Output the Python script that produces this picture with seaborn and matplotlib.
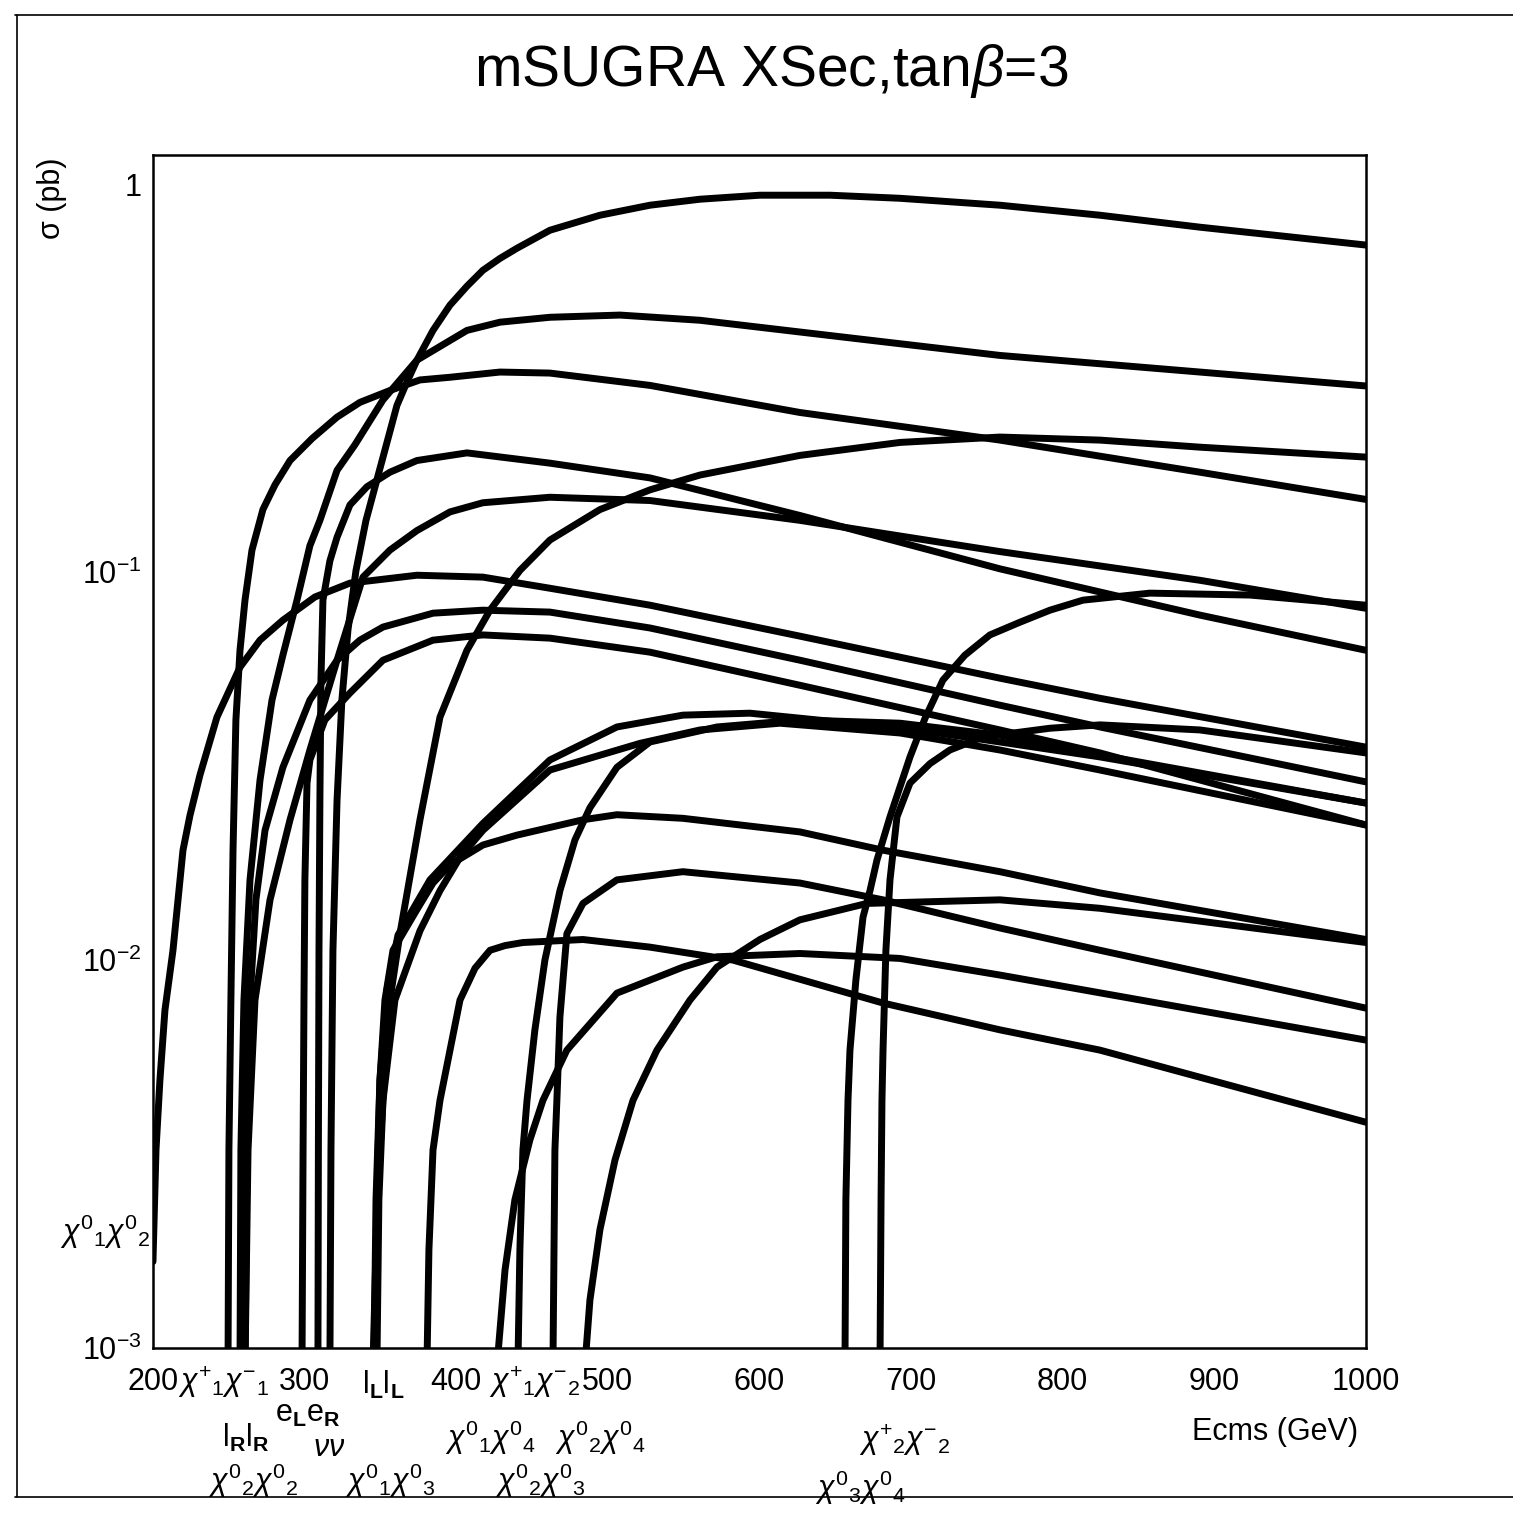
import matplotlib
matplotlib.use("Agg")
import matplotlib.pyplot as plt
import seaborn as sns
from matplotlib.lines import Line2D
from matplotlib.ticker import FixedLocator, MultipleLocator, NullFormatter, LogLocator

# Ecms (GeV) and sigma (pb), one pair of lists per curve
a_e = [249.5, 250.1, 251.4, 252.8, 254.7, 257.4, 260.7, 265.3, 272.5, 280.5, 290.4, 304.9, 321.4, 336.5, 356.3, 376.1, 395.9, 428.9, 461.8, 527.8, 626.7, 758.6, 890.5, 1000]
a_sig = [0.0009, 0.00324, 0.00789, 0.0192, 0.0416, 0.0629, 0.0847, 0.114, 0.145, 0.168, 0.194, 0.221, 0.251, 0.274, 0.294, 0.313, 0.318, 0.328, 0.326, 0.303, 0.258, 0.219, 0.181, 0.154]

b_e = [200, 202, 204.6, 207.9, 213.2, 219.8, 224.4, 231, 242.2, 257.4, 270.6, 285.7, 306.8, 329.9, 374.1, 417.6, 461.8, 527.8, 626.7, 758.6, 824.6, 1000]
b_sig = [0.00167, 0.00324, 0.00491, 0.00743, 0.0106, 0.0192, 0.0236, 0.0300, 0.0423, 0.0569, 0.0668, 0.0752, 0.0863, 0.0937, 0.0982, 0.0971, 0.0909, 0.0822, 0.0684, 0.0533, 0.0473, 0.0354]

c_e = [260.7, 262, 264, 267.9, 273.9, 285.7, 303.5, 321.4, 336.5, 351.7, 384.7, 417.6, 461.8, 527.8, 626.7, 758.6, 824.6, 1000]
c_sig = [0.0009, 0.00324, 0.00789, 0.0143, 0.0216, 0.0314, 0.0468, 0.0593, 0.0668, 0.0722, 0.0784, 0.0798, 0.0789, 0.0718, 0.0593, 0.0454, 0.0399, 0.0288]

d_e = [298.3, 299, 299.6, 300.2, 301.6, 303.5, 313.4, 329.9, 351.7, 384.7, 417.6, 461.8, 527.8, 626.7, 758.6, 824.6, 1000]
d_sig = [0.0009, 0.00324, 0.00789, 0.0161, 0.0286, 0.0328, 0.0416, 0.0488, 0.0593, 0.0668, 0.0689, 0.0676, 0.0622, 0.0511, 0.0392, 0.0342, 0.0223]

u1_e = [316.7, 317.4, 318.7, 321.4, 324.6, 328.6, 333.9, 340.5, 347.7, 360.9, 367.5, 374.1, 384.7, 395.9, 407.1, 417.6, 428.9, 440.1, 461.8, 494.8, 527.8, 560.8, 600.3, 646.5, 692.7, 758.6, 824.6, 890.5, 1000]
u1_sig = [0.0009, 0.00324, 0.0106, 0.0258, 0.0468, 0.0709, 0.101, 0.136, 0.173, 0.269, 0.309, 0.352, 0.420, 0.488, 0.546, 0.600, 0.644, 0.684, 0.761, 0.832, 0.883, 0.915, 0.937, 0.937, 0.920, 0.883, 0.832, 0.775, 0.697]

u2_e = [257.4, 258.0, 260, 264, 270.6, 278.5, 285.7, 295, 303.5, 310.1, 321.4, 333.2, 351.7, 374.1, 407.1, 428.9, 461.8, 508, 560.8, 626.7, 758.6, 890.5, 1000]
u2_sig = [0.0009, 0.00324, 0.00789, 0.0161, 0.0291, 0.0468, 0.0611, 0.0847, 0.117, 0.136, 0.183, 0.213, 0.278, 0.352, 0.420, 0.441, 0.454, 0.460, 0.446, 0.416, 0.362, 0.328, 0.302]

u3_e = [308.8, 309.1, 309.5, 310.1, 310.8, 312.1, 316.7, 321.4, 329.9, 341.1, 356.3, 374.1, 407.1, 461.8, 527.8, 626.7, 758.6, 890.5, 1000]
u3_sig = [0.0009, 0.00324, 0.0106, 0.0258, 0.0527, 0.0847, 0.107, 0.123, 0.149, 0.166, 0.181, 0.194, 0.203, 0.191, 0.175, 0.140, 0.102, 0.0775, 0.0629]

u4_e = [260.7, 262.7, 267.3, 277.2, 290.4, 303.5, 321.4, 338.5, 356.3, 374.1, 395.9, 417.6, 461.8, 527.8, 626.7, 758.6, 890.5, 1000]
u4_sig = [0.0009, 0.00324, 0.00789, 0.0143, 0.0230, 0.0348, 0.0593, 0.0971, 0.114, 0.128, 0.143, 0.151, 0.156, 0.153, 0.136, 0.113, 0.0953, 0.0807]

h_e = [345.1, 347.1, 349.7, 351.7, 356.3, 362.9, 376.1, 389.3, 407.1, 422.3, 442, 461.8, 494.8, 527.8, 560.8, 626.7, 692.7, 758.6, 824.6, 890.5, 1000]
h_sig = [0.0009, 0.00179, 0.00324, 0.00435, 0.00789, 0.0117, 0.0230, 0.0423, 0.0629, 0.0798, 0.101, 0.121, 0.145, 0.163, 0.178, 0.200, 0.216, 0.223, 0.219, 0.210, 0.198]

e_e = [345.8, 347.1, 349.7, 354.3, 361.6, 382.7, 417.6, 461.8, 506, 549.5, 593.7, 703.9, 758.6, 824.6, 1000]
e_sig = [0.0009, 0.00241, 0.00491, 0.00838, 0.0116, 0.0161, 0.0225, 0.0328, 0.0399, 0.0428, 0.0433, 0.0392, 0.0365, 0.0334, 0.0254]

f_e = [347.7, 349, 351.7, 359.6, 376.1, 389.3, 402.5, 417.6, 461.8, 521.2, 560.8, 613.5, 692.7, 758.6, 824.6, 1000]
f_sig = [0.0009, 0.00241, 0.00435, 0.00789, 0.0119, 0.0151, 0.0184, 0.0216, 0.0309, 0.0362, 0.0392, 0.0408, 0.0385, 0.0348, 0.0309, 0.0223]

g_e = [346.4, 347.7, 349.7, 353, 358.3, 374.1, 384.7, 395.9, 407.1, 417.6, 440.1, 483.6, 506, 549.5, 626.7, 681.5, 758.6, 824.6, 1000]
g_sig = [0.0009, 0.00241, 0.00491, 0.00789, 0.0106, 0.0135, 0.0158, 0.0176, 0.0187, 0.0198, 0.0210, 0.0230, 0.0237, 0.0232, 0.0214, 0.0192, 0.0169, 0.0149, 0.0113]

i_e = [380.7, 382, 384.7, 389.3, 402.5, 412.4, 422.3, 432.2, 444, 483.6, 527.8, 582.5, 681.5, 758.6, 824.6, 1000]
i_sig = [0.0009, 0.00179, 0.00324, 0.00435, 0.00789, 0.00953, 0.0106, 0.0109, 0.0111, 0.0113, 0.0108, 0.0100, 0.00775, 0.00661, 0.00586, 0.00382]

j_e = [440.7, 442, 444, 446.7, 451.9, 458.5, 468.4, 478.3, 488.2, 506, 527.8, 572, 626.7, 692.7, 758.6, 824.6, 1000]
j_sig = [0.0009, 0.00179, 0.00324, 0.00435, 0.00661, 0.0100, 0.0151, 0.0204, 0.0247, 0.0314, 0.0365, 0.0399, 0.0416, 0.0408, 0.0380, 0.0338, 0.0254]

k_e = [463.8, 464.5, 465.1, 466.4, 468.4, 473, 483.6, 506, 549.5, 626.7, 681.5, 758.6, 824.6, 1000]
k_sig = [0.0009, 0.00179, 0.00324, 0.00435, 0.00713, 0.0117, 0.0140, 0.0161, 0.0169, 0.0158, 0.0143, 0.0121, 0.0106, 0.00752]

l_e = [426.9, 432.2, 438.7, 448.6, 457.2, 473, 506, 549.5, 572, 626.7, 692.7, 758.6, 1000]
l_sig = [0.0009, 0.00159, 0.00241, 0.00344, 0.00435, 0.00586, 0.00822, 0.00959, 0.0102, 0.0104, 0.0101, 0.00915, 0.00622]

m_e = [484.9, 488.2, 494.8, 504.7, 516.6, 532.4, 554.2, 572, 600.3, 626.7, 670.9, 758.6, 824.6, 1000]
m_sig = [0.0009, 0.00133, 0.00202, 0.00305, 0.00435, 0.00586, 0.00789, 0.00959, 0.0113, 0.0127, 0.0140, 0.0143, 0.0136, 0.0111]

n_e = [656.4, 657, 658.4, 659.7, 663.6, 668.3, 672.9, 677.5, 686.1, 699.3, 709.2, 721, 735.5, 752, 771.8, 791.6, 813.4, 857.5, 923.5, 1000]
n_sig = [0.0009, 0.00241, 0.00435, 0.00586, 0.00888, 0.0129, 0.0151, 0.0181, 0.0234, 0.0334, 0.042, 0.0527, 0.0611, 0.0689, 0.0743, 0.0798, 0.0847, 0.0883, 0.0873, 0.0822]

o_e = [679.5, 680.2, 680.8, 681.5, 683.4, 686.1, 690.7, 699.3, 712.5, 725.6, 747.4, 791.6, 824.6, 890.5, 1000]
o_sig = [0.0009, 0.00241, 0.00435, 0.00586, 0.0106, 0.0161, 0.0234, 0.0286, 0.0321, 0.0348, 0.0376, 0.0396, 0.0404, 0.0392, 0.0342]

curves = [(a_e, a_sig), (b_e, b_sig), (c_e, c_sig), (d_e, d_sig),
          (u1_e, u1_sig), (u2_e, u2_sig), (u3_e, u3_sig), (u4_e, u4_sig),
          (h_e, h_sig), (e_e, e_sig), (f_e, f_sig), (g_e, g_sig),
          (i_e, i_sig), (j_e, j_sig), (k_e, k_sig), (l_e, l_sig),
          (m_e, m_sig), (n_e, n_sig), (o_e, o_sig)]

x_ticks = [200, 300, 400, 500, 600, 700, 800, 900, 1000]
y_ticks = [1e-3, 1e-2, 1e-1, 1]
y_tick_labels = [r"$10^{-3}$", r"$10^{-2}$", r"$10^{-1}$", "1"]

# process labels under the axis: (text, Ecms position, axes-fraction height)
process_labels = [
    (r"$\chi^{+}{}_{1}\chi^{-}{}_{1}$", 246.8, -0.029),
    (r"e$_\mathbf{L}$e$_\mathbf{R}$", 302.0, -0.055),
    (r"l$_\mathbf{R}$l$_\mathbf{R}$", 261.0, -0.075),
    (r"$\nu\nu$", 316.0, -0.084),
    (r"$\chi^{0}{}_{2}\chi^{0}{}_{2}$", 266.0, -0.111),
    (r"l$_\mathbf{L}$l$_\mathbf{L}$", 351.7, -0.031),
    (r"$\chi^{0}{}_{1}\chi^{0}{}_{3}$", 356.3, -0.111),
    (r"$\chi^{+}{}_{1}\chi^{-}{}_{2}$", 452.0, -0.029),
    (r"$\chi^{0}{}_{1}\chi^{0}{}_{4}$", 422.3, -0.075),
    (r"$\chi^{0}{}_{2}\chi^{0}{}_{4}$", 494.8, -0.075),
    (r"$\chi^{0}{}_{2}\chi^{0}{}_{3}$", 455.2, -0.111),
    (r"$\chi^{+}{}_{2}\chi^{-}{}_{2}$", 696.0, -0.077),
    (r"$\chi^{0}{}_{3}\chi^{0}{}_{4}$", 666.3, -0.117),
    (r"$\chi^{0}{}_{1}\chi^{0}{}_{2}$", 168.3, 0.097),
]

sns.set_style("white")
plt.rcParams["font.family"] = ["Liberation Sans", "DejaVu Sans"]
plt.rcParams["mathtext.fontset"] = "custom"
plt.rcParams["mathtext.rm"] = "Liberation Sans"
plt.rcParams["mathtext.it"] = "Liberation Sans:italic"
plt.rcParams["mathtext.bf"] = "Liberation Sans:bold"
plt.rcParams["text.color"] = "black"
plt.rcParams["axes.labelcolor"] = "black"

fig = plt.figure(figsize=(15.13, 15.16), dpi=100)
ax = fig.add_axes([0.1011, 0.1108, 0.8017, 0.787])

for e, s in curves:
    sns.lineplot(x=e, y=s, ax=ax, color="black", linewidth=5,
                 estimator=None, sort=False, solid_joinstyle="round")

ax.set_yscale("log")
ax.set_xlim(200, 1000)
ax.set_ylim(1e-3, 1.19)

ax.xaxis.set_major_locator(FixedLocator(x_ticks))
ax.xaxis.set_minor_locator(MultipleLocator(20))
ax.set_xticklabels([str(t) for t in x_ticks])
ax.yaxis.set_major_locator(FixedLocator(y_ticks))
ax.set_yticklabels(y_tick_labels)
ax.yaxis.set_minor_locator(LogLocator(base=10, subs=range(2, 10)))
ax.yaxis.set_minor_formatter(NullFormatter())

ax.tick_params(which="both", direction="in", top=False, right=False,
               width=1.5, colors="black", labelcolor="black", labelsize=22)
ax.tick_params(which="major", length=15)
ax.tick_params(which="minor", length=8)
ax.tick_params(axis="x", which="both", pad=14)
ax.tick_params(axis="y", which="both", pad=8)

for sp in ax.spines.values():
    sp.set_linewidth(1.8)
    sp.set_color("black")

ax.set_xlabel("Ecms (GeV)", fontsize=22)
ax.xaxis.set_label_coords(0.925, -0.058)
ax.set_ylabel("σ (pb)", fontsize=22)
ax.yaxis.set_label_coords(-0.071, 0.964)

for txt, xe, ya in process_labels:
    ax.text(xe, ya, txt, transform=ax.get_xaxis_transform(), fontsize=22,
            ha="center", va="center", clip_on=False)

fig.text(0.51, 0.953, r"mSUGRA XSec,tan$\beta$=3", fontsize=41,
         ha="center", va="center")

# page frame round the picture
fig.add_artist(Line2D([0.01, 1.0], [0.990, 0.990], transform=fig.transFigure, color="black", lw=1.2))
fig.add_artist(Line2D([0.01, 1.0], [0.0125, 0.0125], transform=fig.transFigure, color="black", lw=1.2))
fig.add_artist(Line2D([0.011, 0.011], [0.0125, 0.990], transform=fig.transFigure, color="black", lw=1.2))

fig.savefig("out.png", dpi=100)
